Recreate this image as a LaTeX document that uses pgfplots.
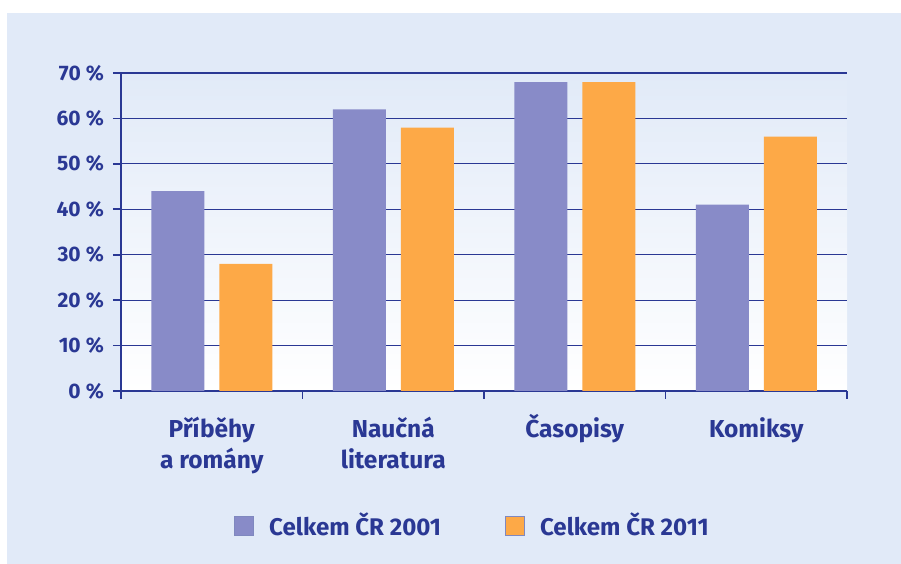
\documentclass[border=0pt]{standalone}
\usepackage{pgfplots}
\pgfplotsset{compat=1.18}
\usepackage{fontspec}
\setmainfont{Fira Sans}
\definecolor{ink}{RGB}{42,56,148}
\definecolor{panel}{RGB}{225,234,248}
\definecolor{barA}{RGB}{136,139,200}
\definecolor{barB}{RGB}{253,169,71}
\begin{document}
\begin{tikzpicture}[x=1pt,y=1pt]
\fill[white] (0,0) rectangle (901,564);
\fill[panel] (7,0) rectangle (901,551);
\begin{axis}[
  at={(121pt,173pt)}, anchor=south west,
  width=726pt, height=318pt, scale only axis,
  xmin=-0.5, xmax=3.5, ymin=0, ymax=70,
  axis background/.style={shade, top color=panel, bottom color=white},
  axis x line*=bottom, axis y line*=left,
  axis line style={-, draw=ink, line width=2.2pt},
  tick align=outside,
  major tick length=8pt,
  tick style={draw=ink, line width=1.6pt},
  ytick={0,10,...,70},
  yticklabels={0 \%,10 \%,20 \%,30 \%,40 \%,50 \%,60 \%,70 \%},
  yticklabel style={anchor=east, inner sep=0pt, xshift=-9pt, text=ink,
    font=\bfseries\fontsize{21}{24}\selectfont},
  ymajorgrids,
  grid style={draw=ink, line width=1.1pt},
  xtick={-0.5,0.5,1.5,2.5,3.5},
  xticklabels={},
  extra x ticks={0,1,2,3},
  extra x tick labels={\rule{0pt}{24pt}Příběhy\\a romány, \rule{0pt}{24pt}Naučná\\literatura, \rule{0pt}{24pt}Časopisy, \rule{0pt}{24pt}Komiksy},
  extra x tick style={major tick length=0pt, xmajorgrids=false,
    xticklabel style={anchor=north, inner sep=0pt, yshift=-22pt, align=center, text=ink,
      font=\bfseries\fontsize{24.5}{31}\selectfont}},
  legend columns=2,
  legend style={at={(0.1556,-0.4213)}, anchor=west, draw=none, fill=none, inner sep=0pt,
    text=ink, font=\bfseries\fontsize{24.1}{28}\selectfont,
    nodes={inner sep=0pt},
    /tikz/every odd column/.append style={column sep=15pt},
    /tikz/every even column/.append style={column sep=64pt}},
  legend image code/.code={\draw[#1, draw=ink!60, line width=0.8pt] (0.4pt,-10pt) rectangle (19.6pt,9pt);},
]
\addplot[ybar, bar width=53pt, bar shift=-34pt, fill=barA, draw=none] coordinates {(0,44) (1,62) (2,68) (3,41)};
\addplot[ybar, bar width=53pt, bar shift=34pt, fill=barB, draw=none] coordinates {(0,28) (1,58) (2,68) (3,56)};
\legend{Celkem ČR 2001, Celkem ČR 2011}
\end{axis}
\end{tikzpicture}
\end{document}
